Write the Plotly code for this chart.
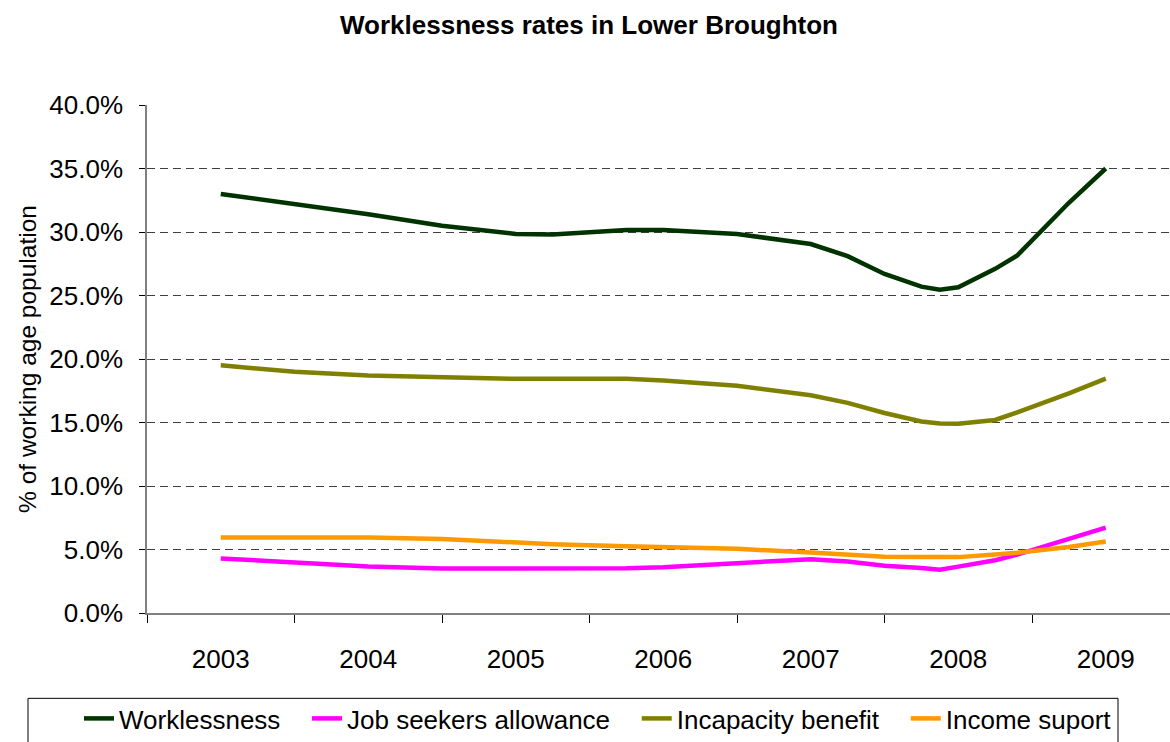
import plotly.graph_objects as go

# Survey dates as fractional years (points are irregularly spaced)
dates = [2003.0, 2003.5, 2004.0, 2004.5, 2005.0, 2005.25, 2005.75, 2006.0,
         2006.5, 2007.0, 2007.25, 2007.5, 2007.75, 2007.875, 2008.0,
         2008.25, 2008.4, 2008.75, 2009.0]

# Rates as % of working age population
worklessness = [33.0, 32.2, 31.4, 30.5, 29.85, 29.8, 30.15, 30.15,
                29.85, 29.05, 28.1, 26.7, 25.7, 25.45, 25.65,
                27.1, 28.15, 32.3, 35.0]
job_seekers = [4.3, 3.95, 3.67, 3.5, 3.48, 3.48, 3.52, 3.6,
               3.9, 4.24, 4.05, 3.72, 3.55, 3.41, 3.65,
               4.15, 4.6, 5.85, 6.72]
incapacity = [19.5, 19.0, 18.7, 18.55, 18.44, 18.44, 18.44, 18.3,
              17.9, 17.15, 16.55, 15.75, 15.08, 14.92, 14.9,
              15.2, 15.8, 17.3, 18.46]
income_support = [5.94, 5.95, 5.95, 5.83, 5.5, 5.42, 5.25, 5.17,
                  5.05, 4.77, 4.62, 4.42, 4.4, 4.4, 4.4,
                  4.6, 4.75, 5.2, 5.63]

year_labels = ["2003", "2004", "2005", "2006", "2007", "2008", "2009"]
year_positions = [2003, 2004, 2005, 2006, 2007, 2008, 2009]
year_bounds = [2002.5 + i for i in range(8)]
y_ticks = [0, 5, 10, 15, 20, 25, 30, 35, 40]
y_labels = [f"{v:.1f}%" for v in y_ticks]

series = [
    ("Worklessness", worklessness, "#003300"),
    ("Job seekers allowance", job_seekers, "#FF00FF"),
    ("Incapacity benefit", incapacity, "#808000"),
    ("Income suport", income_support, "#FF9900"),
]

FONT = "Liberation Sans, Arial, sans-serif"
PAD = "\u00a0\u00a0\u00a0"  # extra room after each legend label

fig = go.Figure()
for name, values, color in series:
    fig.add_trace(go.Scatter(
        x=dates, y=values, name=name + PAD, mode="lines",
        line=dict(color=color, width=4.5),
    ))

# plot area spans 147..1170 px horizontally and 105..617 px vertically
PW, PH, L, T = 1023.0, 512.0, 147.0, 105.0
def px_x(p):
    return (p - L) / PW
def px_y(p):
    return (T + PH - p) / PH

fig.update_layout(
    width=1170, height=742,
    margin=dict(l=147, r=0, t=105, b=125),
    paper_bgcolor="white", plot_bgcolor="white",
    font=dict(family=FONT, color="black"),
    title=dict(
        text="<b>Worklessness rates in Lower Broughton</b>",
        x=px_x(589), xanchor="center", y=1 - 25 / 742, yanchor="middle",
        xref="paper",
        font=dict(family=FONT, size=26, color="black"),
    ),
    showlegend=True,
    legend=dict(
        orientation="h", x=px_x(79), xanchor="left", y=px_y(700), yanchor="top",
        borderwidth=0, bgcolor="rgba(0,0,0,0)",
        font=dict(family=FONT, size=26, color="black"),
        itemwidth=30, tracegroupgap=0,
    ),
    shapes=[dict(
        type="rect", xref="paper", yref="paper",
        x0=px_x(28), x1=px_x(1118), y0=px_y(703), y1=px_y(760),
        line=dict(color="black", width=1), fillcolor="rgba(0,0,0,0)",
        layer="below",
    )],
)

fig.update_xaxes(
    range=[2002.5, 2002.5 + PW / 147.5],
    tickvals=year_positions, ticktext=year_labels,
    ticks="outside", ticklen=0,
    ticklabelstandoff=22,
    tickfont=dict(family=FONT, size=26, color="black"),
    showgrid=False, zeroline=False,
    showline=True, linecolor="#808080", linewidth=1.5,
    minor=dict(tickvals=year_bounds, ticks="outside", ticklen=8,
               tickcolor="black", tickwidth=1, showgrid=False),
)

fig.update_yaxes(
    range=[0, 40],
    tickvals=y_ticks, ticktext=y_labels,
    ticks="outside", ticklen=6, tickcolor="black",
    ticklabelstandoff=11,
    tickfont=dict(family=FONT, size=26, color="black"),
    showgrid=True, gridcolor="#404040", gridwidth=1, griddash="8px,5px",
    zeroline=False,
    showline=True, linecolor="#808080", linewidth=1.5,
    title=dict(text="% of working age population",
               font=dict(family=FONT, size=24.5, color="black"), standoff=6),
)

fig.write_html("out.html")
